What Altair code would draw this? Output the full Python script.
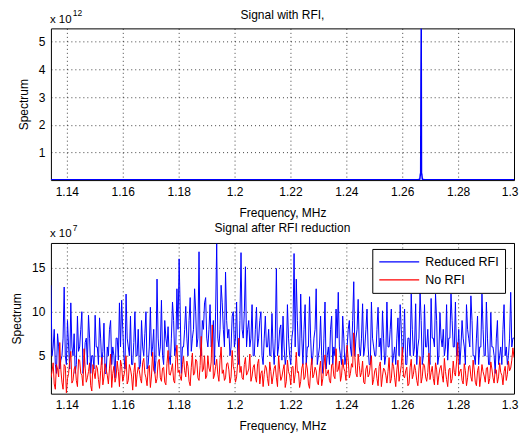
import altair as alt
import numpy as np
import pandas as pd

# ---- data ----
f_start, f_end = 1.1343, 1.3
x_ticks = [1.14, 1.16, 1.18, 1.2, 1.22, 1.24, 1.26, 1.28, 1.3]

# top panel: signal with RFI (units of 1e12)
top_freq = [1.1343, 1.2655, 1.2663, 1.2665, 1.2666, 1.2667, 1.2668, 1.2669, 1.2670, 1.2672, 1.2680, 1.3]
top_spec = [0.01, 0.01, 0.03, 0.22, 0.25, 3.6, 5.48, 0.25, 0.22, 0.03, 0.01, 0.01]

# bottom panel (units of 1e7): even samples ...
reduced_rfi = [
    13, 6, 4, 7.5, 3.5, 5, 12.8, 4, 6, 11,
    5, 3, 9.5, 6, 10, 4, 7, 9.6, 3, 5,
    9.6, 6, 9.3, 4, 8.7, 3, 5, 9, 6, 2.5,
    7, 11, 11.3, 5, 12, 6, 9.5, 4, 10, 5,
    3.5, 9, 5, 10, 4, 10.5, 6, 3, 13.7, 5,
    11.3, 4, 7,
    8.3, 4, 11.1, 5, 12.6, 16, 3,
    6, 10.6, 5, 11.6, 7, 12.6, 6, 16.8, 5, 8,
    11.6, 6, 10.8, 7, 4, 17.7, 6, 13, 8, 14.5,
    7, 5, 9.5, 6, 11.1, 4, 16.7, 7, 15.1, 8,
    6, 10.8, 5, 10.5, 7, 10, 4, 9.5, 6, 5,
    9.8, 4, 14.9, 6, 8.5,
    9.5, 4, 10.8, 5, 7,
    16.6, 13.7, 5, 12, 4, 10.8, 6, 11.7, 4, 7,
    12.6, 5, 9.5, 3, 11.1, 5, 4, 9.5, 6, 10.3,
    12.2, 5, 9.5, 4, 6, 9, 5, 13.4, 7, 11.4,
    5, 10.9, 6, 10.3, 4, 11.1, 6, 5, 10.5, 7,
    10.1, 4, 11.1, 6, 10.3, 5, 4, 9.3,
    10.8, 5,
    10.3, 4, 7, 12, 5, 10.9, 6, 12.2, 4, 10.8,
    6, 5, 11.5, 7, 12, 4, 9.9, 6, 5, 10.8,
    7, 12, 6, 11.1, 5, 4, 9, 6, 10.8, 7,
    11.8, 5, 4, 9.5, 6, 12, 5, 11.1, 4, 9.9,
    6, 3, 9, 5, 4, 10.8, 6, 5, 12.2, 7,
]
# ... and the samples lying between them
reduced_rfi_mid = [
    5, 8, 3, 6, 4.5, 7, 5, 9, 3.5, 6, 7.5, 4, 5.5, 8, 3, 6.5, 4, 7, 5, 3.5,
    6, 4, 7, 5.5, 3, 6, 8, 4, 5, 7, 4.5, 6, 8, 3.5, 7, 5, 4, 6.5, 5, 8,
    4, 6, 7.5, 3.5, 6, 5, 8, 4.5, 7, 6, 5, 9, 6, 5, 7, 9, 6, 8, 10, 6,
    8, 7, 9, 5.5, 8, 10, 7, 6, 9, 11, 7, 8, 6, 9, 10, 7, 8, 11, 6, 9,
    8, 6, 10, 7, 5, 9, 8, 10, 6, 9, 7, 5, 8, 6, 9, 5, 7, 6, 8, 5,
    6, 7, 5, 8, 4.5, 6, 5, 7, 4, 8, 6, 9, 5, 7, 8, 4, 6, 7, 5, 8,
    4, 6, 5, 7, 3.5, 6, 8, 4, 5, 7, 6, 4, 7, 5, 8, 6, 9, 5, 8, 6,
    7, 5, 8, 6, 4, 7, 5, 8, 6, 4.5, 7, 5, 6, 8, 4, 6, 7, 5, 8, 6,
    4, 7, 5, 8, 6, 4, 7, 9, 5, 6, 8, 4, 7, 6, 9, 5, 7, 8, 6, 4.5,
    7, 9, 6, 5, 8, 6, 7, 4, 8, 6, 9, 5, 7, 4, 6, 8, 5, 7, 4, 6,
    5, 7, 4, 6, 8, 5, 4, 7, 6, 7,
]
no_rfi = [
    2.5, 4.2, 1.2, 3.5, 6.5, 2, 4, 0.8, 3, 5.5, 2.2, 3.8, 1.5, 4.5, 2.8, 5.8, 2, 3.2, 1.6, 4,
    2.4, 3.6, 1.3, 4.8, 2.6, 3.4, 1.8, 5.2, 3, 2, 4.4, 1.5, 3.8, 2.7, 5, 2.2, 3.5, 1.1, 4.2, 2.9,
    3.3, 1.9, 4.7, 2.5, 3.6, 1.4, 5.4, 3.1, 2.4, 4.6, 2.1, 3.7, 1.7, 5.6, 2.8, 4.1, 1.9, 6.2, 3.4, 2.2,
    4.9, 2.6, 3.8, 1.6, 5.3, 3, 4.4, 2.2, 7.2, 3.5, 2.4, 5, 3.2, 8.5, 2.8, 4.6, 2.1, 6, 3.4, 2.5,
    4.2, 1.9, 5.6, 3.3, 2.6, 7, 3.8, 2.3, 4.8, 3.1, 5.2, 2.7, 4, 2, 4.6, 3, 1.5, 3.9, 2.4, 4.3,
    1.8, 3.6, 2.5, 5, 2.2, 3.4, 1.4, 4.5, 2.8, 3.7, 1.9, 5.4, 3.2, 2.1, 4.1, 2.6, 3.5, 1.3, 4.7, 2.9,
    3.3, 1.7, 4.4, 2.4, 5.1, 3, 2.2, 4, 2.7, 5.8, 3.4, 2.1, 4.6, 3.2, 6.2, 2.5, 4.1, 7.6, 3, 5.2,
    2.6, 4.4, 1.8, 3.9, 2.9, 5, 2.3, 3.6, 1.6, 4.3, 2.7, 3.4, 1.9, 4.8, 2.4, 3.8, 1.5, 4.5, 3, 6,
    2.5, 3.7, 1.8, 4.6, 2.9, 3.3, 1.6, 4.9, 2.6, 3.9, 2.1, 5.3, 3.1, 2.4, 4.2, 1.7, 3.6, 2.8, 4.7, 2.3,
    3.4, 1.9, 4.4, 2.7, 6.5, 3.2, 2.2, 4.1, 1.6, 3.8, 2.6, 4.5, 2, 3.3, 1.5, 4, 2.7, 3.6, 1.8, 4.3,
    2.5, 3.5, 1.9, 4.2, 2.8, 3.2, 2.2, 4.4, 3.6, 5.9,
]
no_rfi_mid = [
    3.2, 1.8, 4, 2.6, 3.4, 1.2, 3.8, 2.4, 4.4, 1.9, 3.5, 2.2, 4.6, 3, 1.6, 3.6, 2.5, 4.2, 1, 3.1,
    3.9, 2.3, 3.3, 1.7, 4.1, 2.8, 3.6, 1.4, 3.8, 2.6, 3.2, 4.5, 2.1, 3.4, 1.8, 4, 2.7, 3.1, 1.5, 3.7,
    2.4, 4.2, 3, 1.6, 3.9, 2.7, 3.3, 1.9, 4.3, 2.5, 3.6, 2, 4.1, 2.9, 3.4, 2.2, 4.6, 3.1, 2.6, 4,
    3.3, 4.4, 2.1, 3.7, 2.8, 4.6, 2.5, 3.9, 3.2, 5, 2.7, 3.6, 4.3, 2.4, 3.8, 2.9, 4.5, 3, 2.2, 4.1,
    3.4, 2.6, 3.8, 2, 4.2, 3.1, 2.5, 4, 2.8, 3.5, 2.1, 3.7, 2.6, 4.1, 1.8, 3.3, 2.9, 3.6, 1.6, 3.2,
    2.7, 3.9, 1.5, 3.4, 2.6, 4, 2.1, 3.2, 1.7, 3.8, 2.9, 3.1, 1.4, 3.6, 2.3, 4.2, 1.8, 3.3, 2.5, 3.7,
    2, 3.5, 1.6, 3.9, 2.7, 3.4, 1.9, 4.1, 2.4, 3.2, 4.4, 2.8, 3.6, 2.2, 4.5, 3, 3.7, 4.8, 2.6, 3.9,
    3.1, 2, 3.5, 2.6, 4, 1.7, 3.3, 2.4, 3.8, 1.5, 3.6, 2.8, 3.2, 1.9, 4.2, 2.5, 3.4, 2.1, 3.9, 2.7,
    3.3, 1.6, 3.7, 2.4, 4, 2.2, 3.5, 1.9, 4.1, 2.6, 3.1, 2.3, 3.8, 1.7, 3.4, 2.8, 3.9, 2, 3.2, 1.5,
    3.6, 2.4, 3.1, 4.3, 2.7, 3.5, 1.8, 3.3, 2.5, 3.9, 2.1, 3.4, 1.6, 3.8, 2.6, 3.2, 2, 3.7, 2.4, 3.5,
    1.9, 3.4, 2.6, 3.1, 1.7, 3.8, 2.9, 3.3, 4.5, 4.8,
]
series_names = ["Reduced RFI", "No RFI"]
series_colors = ["#0000ff", "#ff0000"]
top_title = "Signal with RFI,"
bottom_title = "Signal after RFI reduction"

FONT = "Liberation Sans"
W = 464


def interleave(a, b):
    out = []
    for u, v in zip(a, b):
        out += [u, v]
    return out


blue_vals = interleave(reduced_rfi, reduced_rfi_mid)
red_vals = interleave(no_rfi, no_rfi_mid)

top_df = pd.DataFrame({"f": top_freq, "s": top_spec})
blue_df = pd.DataFrame({"f": np.linspace(f_start, f_end, len(blue_vals)), "s": blue_vals,
                        "series": series_names[0]})
red_df = pd.DataFrame({"f": np.linspace(f_start, f_end, len(red_vals)), "s": red_vals,
                       "series": series_names[1]})

xscale = alt.Scale(domain=[f_start, f_end], nice=False, zero=False)
xaxis = alt.Axis(values=x_ticks, format=".3~g", title="Frequency, MHz",
                 labelPadding=6, titlePadding=10, labelFlushOffset=4)


def label(txt, x, y, size, align="left"):
    return alt.Chart(pd.DataFrame({"t": [txt]})).mark_text(
        align=align, baseline="alphabetic", font=FONT, fontSize=size, color="black"
    ).encode(text="t:N", x=alt.value(x), y=alt.value(y))


# ---------------- top panel ----------------
top_line = alt.Chart(top_df).mark_line(color="#0000ff", strokeWidth=1.5, clip=True).encode(
    x=alt.X("f:Q", scale=xscale, axis=xaxis),
    y=alt.Y("s:Q", scale=alt.Scale(domain=[0, 5.48], nice=False),
            axis=alt.Axis(values=[1, 2, 3, 4, 5], title="Spectrum", labelPadding=6, titlePadding=8)),
)
top = alt.layer(
    top_line,
    label("x 10", -1, -5, 11.5),
    label("12", 22, -12, 8.5),
    label(top_title, W / 2, -9, 12, align="center"),
).properties(width=W, height=152)

# ---------------- bottom panel ----------------
cscale = alt.Scale(domain=series_names, range=series_colors)
legend = alt.Legend(title=None, orient="none", legendX=322, legendY=6, fillColor="white",
                    strokeColor="black", padding=6, symbolType="stroke", symbolSize=1600,
                    symbolStrokeWidth=1.2, labelFontSize=12.5, labelFont=FONT, labelColor="black",
                    clipHeight=14, rowPadding=4, labelOffset=5)
yb = alt.Y("s:Q", scale=alt.Scale(domain=[0.7, 17.8], nice=False, zero=False),
           axis=alt.Axis(values=[5, 10, 15], title="Spectrum", labelPadding=6, titlePadding=8))
blue_line = alt.Chart(blue_df).mark_line(strokeWidth=1, clip=True).encode(
    x=alt.X("f:Q", scale=xscale, axis=xaxis), y=yb,
    color=alt.Color("series:N", scale=cscale, legend=legend),
)
red_line = alt.Chart(red_df).mark_line(strokeWidth=1, clip=True).encode(
    x=alt.X("f:Q", scale=xscale, axis=xaxis), y=yb,
    color=alt.Color("series:N", scale=cscale, legend=legend),
)
bottom = alt.layer(
    blue_line, red_line,
    label("x 10", -1, -6, 11.5),
    label("7", 22, -12, 8.5),
    label(bottom_title, W / 2, -11, 12, align="center"),
).properties(width=W, height=151)

chart = alt.vconcat(top, bottom, spacing=2).resolve_scale(
    color="independent"
).resolve_legend(color="independent").properties(
    padding={"left": 2, "top": 0, "right": 0, "bottom": 0},
    background="white",
).configure_axis(
    labelFont=FONT, titleFont=FONT, labelFontSize=12, titleFontSize=12,
    titleFontWeight="normal", labelColor="black", titleColor="black",
    grid=True, gridColor="black", gridDash=[1, 3], gridOpacity=0.75,
    domain=False, ticks=False,
).configure_view(stroke="black", strokeWidth=1)

chart.save("out.html", embed_options={"renderer": "svg", "actions": False})
